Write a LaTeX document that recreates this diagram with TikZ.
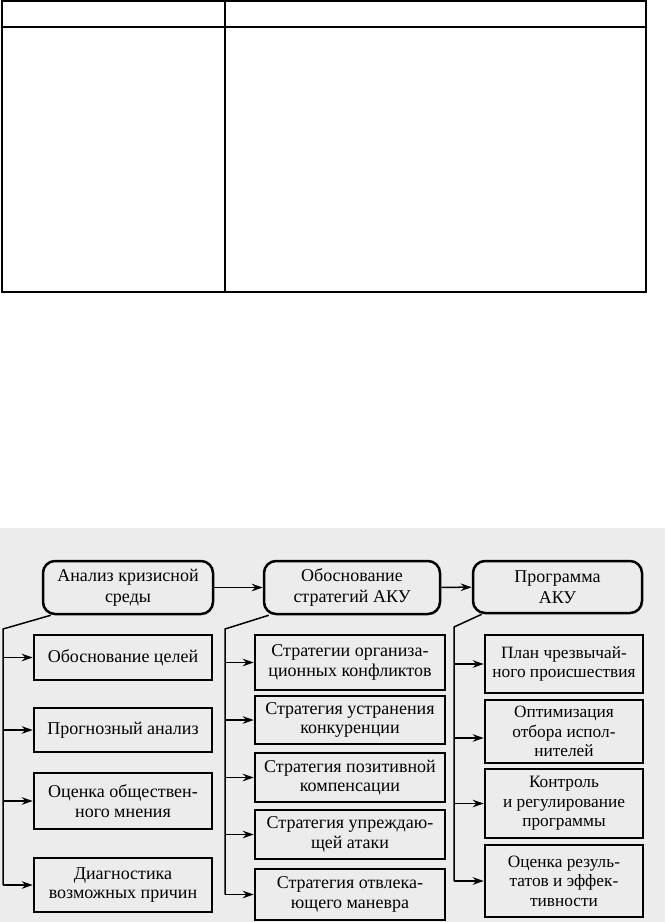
\documentclass[tikz,border=0pt]{standalone}
\usepackage{fontspec}
\setmainfont{Liberation Serif}
\usetikzlibrary{arrows.meta}
\definecolor{scan}{RGB}{236,236,236}
\tikzset{
  tbl/.style={line width=1.3pt},
  topbox/.style={draw, line width=2.5pt, rounded corners=12pt, align=center, inner sep=1pt,
     font=\fontsize{18}{21}\selectfont},
  subbox/.style={draw, line width=2.5pt, align=center, inner sep=1pt,
     font=\fontsize{18}{19.5}\selectfont},
  narrowtext/.style={font=\fontsize{17.3}{19.5}\selectfont},
  conn/.style={line width=1.5pt},
  arr/.style={line width=1.5pt, -{Stealth[length=11pt,width=7.5pt]}},
}
\begin{document}
\begin{tikzpicture}[x=1pt,y=-1pt]
\useasboundingbox (0,0) rectangle (665,922);
\fill[white] (0,0) rectangle (665,922);
% table
\draw[tbl] (2,1) rectangle (646,292);
\draw[tbl] (2,27) -- (646,27);
\draw[tbl] (225,1) -- (225,292);
% scanned background
\fill[scan] (0,528) rectangle (665,922);
% top row
\node[topbox, minimum width=170pt, minimum height=53pt] (t1) at (128,587.5) {Анализ кризисной\\среды};
\node[topbox, minimum width=176pt, minimum height=53pt] (t2) at (352,587.5) {Обоснование\\стратегий АКУ};
\node[topbox, minimum width=169pt, minimum height=52pt] (t3) at (557.5,587) {Программа\\АКУ};
\draw[arr] (t1) -- (t2);
\draw[arr] (t2) -- (t3);
% column 1
\node[subbox, minimum width=178pt, minimum height=45pt] (a1) at (123,657.5) {Обоснование целей};
\node[subbox, minimum width=178pt, minimum height=44pt] (a2) at (123,730) {Прогнозный анализ};
\node[subbox, minimum width=178pt, minimum height=56pt] (a3) at (123,801) {Оценка обществен-\\ного мнения};
\node[subbox, minimum width=178pt, minimum height=54pt] (a4) at (123,885) {Диагностика\\возможных причин};
% column 2
\node[subbox, minimum width=190pt, minimum height=55pt] (b1) at (350,662.5) {Стратегии организа-\\ционных конфликтов};
\node[subbox, minimum width=190pt, minimum height=48pt] (b2) at (350,720) {Стратегия устранения\\конкуренции};
\node[subbox, minimum width=190pt, minimum height=49pt] (b3) at (350,777.5) {Стратегия позитивной\\компенсации};
\node[subbox, minimum width=190pt, minimum height=49pt] (b4) at (350,834.5) {Стратегия упреждаю-\\щей атаки};
\node[subbox, minimum width=190pt, minimum height=51pt] (b5) at (350,894.5) {Стратегия отвлека-\\ющего маневра};
% column 3
\node[subbox, narrowtext, minimum width=158pt, minimum height=58pt] (c1) at (564,664) {План чрезвычай-\\ного происшествия};
\node[subbox, narrowtext, minimum width=158pt, minimum height=63pt] (c2) at (564,731.5) {Оптимизация\\отбора испол-\\нителей};
\node[subbox, narrowtext, minimum width=158pt, minimum height=69pt] (c3) at (564,803.5) {Контроль\\и регулирование\\программы};
\node[subbox, narrowtext, minimum width=158pt, minimum height=72pt] (c4) at (564,881) {Оценка резуль-\\татов и эффек-\\тивности};
% spines
\coordinate (s1) at (3,629);
\coordinate (s2) at (225,629);
\coordinate (s3) at (454,627);
\coordinate (c2in) at ([yshift=-6.5pt]c2.west);
\draw[conn] ([xshift=9pt]t1.south west) -- (s1) -- (s1 |- a4.west);
\draw[conn] ([xshift=6pt]t2.south west) -- (s2) -- (s2 |- b5.west);
\draw[conn] ([xshift=10pt]t3.south west) -- (s3) -- (s3 |- c4.west);
\foreach \n in {a1,a2,a3,a4} \draw[arr] (s1 |- \n.west) -- (\n.west);
\foreach \n in {b1,b2,b3,b4,b5} \draw[arr] (s2 |- \n.west) -- (\n.west);
\foreach \n in {c1,c3,c4} \draw[arr] (s3 |- \n.west) -- (\n.west);
\draw[arr] (s3 |- c2in) -- (c2in);
\end{tikzpicture}
\end{document}
